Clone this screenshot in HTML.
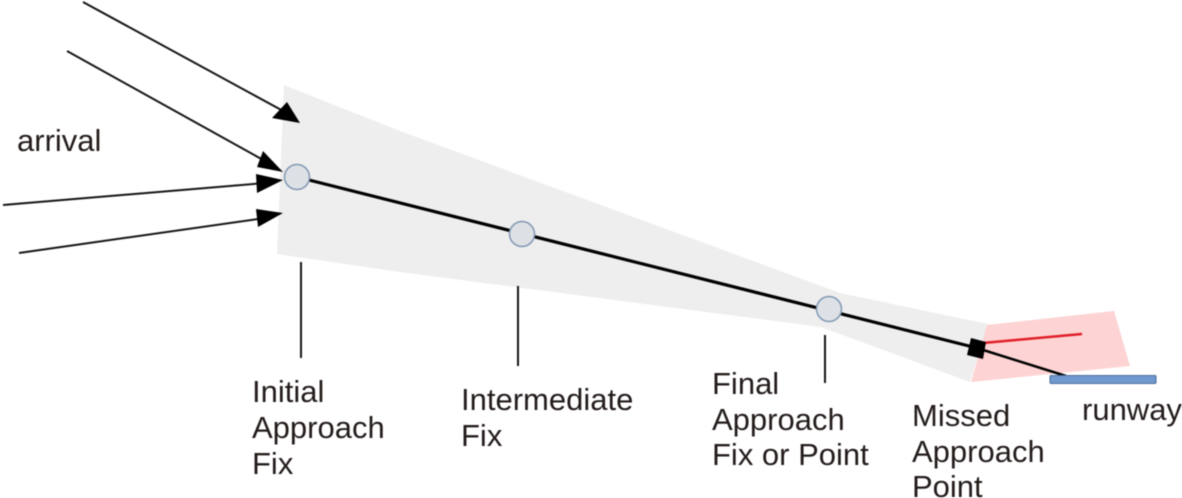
<!DOCTYPE html>
<html><head><meta charset="utf-8"><style>
html,body{margin:0;padding:0;background:#fff;width:1182px;height:498px;overflow:hidden}
svg{display:block}
text{font-family:"Liberation Sans",sans-serif;font-size:31px;fill:#231c1b}
</style></head><body>
<svg width="1182" height="498" viewBox="0 0 1182 498" xmlns="http://www.w3.org/2000/svg" style="filter:blur(0.5px)">
<rect width="1182" height="498" fill="#fff"/>
<polygon points="284,85 400,131 840,293 988,324 970,382 821,327 400,272 277,254" fill="#eeeeee"/>
<polygon points="987,325 1114,311 1130,366 971,382" fill="#fdd3d3"/>
<g stroke="#151515" stroke-width="2" fill="none">
<line x1="83" y1="2" x2="285" y2="112"/>
<line x1="67" y1="51" x2="265" y2="161"/>
<line x1="3" y1="205" x2="265" y2="183"/>
<line x1="19" y1="253" x2="265" y2="218"/>
<line x1="301" y1="262" x2="301" y2="358"/>
<line x1="518" y1="286" x2="518" y2="366"/>
<line x1="825" y1="335" x2="825" y2="383"/>
</g>
<g fill="#000">
<polygon points="300,123 272,118 287,102"/>
<polygon points="283,172 257,167 263,151"/>
<polygon points="283,180 256,174 257,193"/>
<polygon points="283,213 256,209 258,227"/>
</g>
<line x1="297" y1="177" x2="977" y2="348" stroke="#000" stroke-width="3.2"/>
<line x1="980" y1="349" x2="1066" y2="376" stroke="#000" stroke-width="2.5"/>
<line x1="983" y1="343" x2="1082" y2="334" stroke="#e01f28" stroke-width="2.5"/>
<polygon points="971,338 986,342 983,359 967,355" fill="#000"/>
<rect x="1050" y="375.5" width="106" height="8" rx="1" fill="#7099cf" stroke="#4a6f99" stroke-width="1"/>
<g fill="#dde1e6" stroke="#8299b5" stroke-width="1.5">
<circle cx="297" cy="177" r="12.5"/>
<circle cx="522" cy="234" r="12.5"/>
<circle cx="829" cy="309" r="12.5"/>
</g>
<text x="17" y="151">arrival</text>
<text x="252" y="402">Initial</text>
<text x="252" y="438">Approach</text>
<text x="252" y="474">Fix</text>
<text x="461" y="410">Intermediate</text>
<text x="461" y="446">Fix</text>
<text x="712" y="394">Final</text>
<text x="712" y="430">Approach</text>
<text x="712" y="465">Fix or Point</text>
<text x="912" y="426">Missed</text>
<text x="912" y="462">Approach</text>
<text x="912" y="497">Point</text>
<text x="1082" y="420">runway</text>
</svg>
</body></html>
